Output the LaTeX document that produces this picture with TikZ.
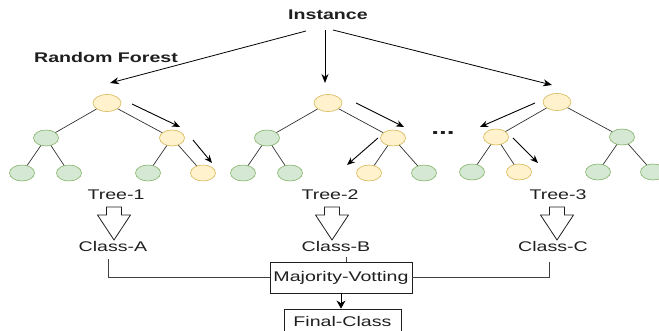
\documentclass[tikz,border=0pt]{standalone}
\usepackage{fontspec}
\setmainfont{Liberation Sans}
\usetikzlibrary{arrows.meta,shapes.geometric}
\definecolor{gfill}{HTML}{D5E8D4}
\definecolor{gline}{HTML}{82B366}
\definecolor{yfill}{HTML}{FFF2CC}
\definecolor{yline}{HTML}{D6B656}
\definecolor{ink}{HTML}{1F1F1F}
\newcommand\widetxt[1]{\scalebox{1.4}[1]{#1}}
\tikzset{
  nd/.style={ellipse, draw=#1line, fill=#1fill, line width=0.6pt,
    minimum width=25pt, minimum height=16pt, inner sep=0pt},
  rootnd/.style={nd=#1, minimum width=28pt, minimum height=17pt},
  branch/.style={draw=black!80, line width=0.7pt},
  walk/.style={-{Stealth[length=8pt,width=6.5pt]}, line width=0.9pt},
  feed/.style={-{Stealth[length=9pt,width=7pt]}, line width=0.8pt},
  txt/.style={text=ink, inner sep=1pt, font=\fontsize{14}{16}\selectfont},
  boldtxt/.style={txt, font=\fontsize{14}{16}\selectfont\bfseries},
  hollow/.style={draw=ink, line width=0.8pt, fill=white},
  link/.style={draw=black!75, line width=0.8pt},
  box/.style={txt, draw=ink, line width=0.8pt}
}
\begin{document}
\begin{tikzpicture}[x=1pt,y=1pt]
  \useasboundingbox (0,0) rectangle (659,331);

  \node[boldtxt] (inst) at (328,316) {\widetxt{Instance}};
  \node[boldtxt] (rf) at (106,273) {\widetxt{Random Forest}};

  % the three trees
  \foreach \t/\cx/\cy/\cr/\ca/\cb/\caa/\cab/\cba/\cbb in
    {1/107/228/y/g/y/g/g/g/y, 2/328/228/y/g/y/g/g/y/g, 3/557/229/y/y/g/g/y/g/g} {
    \begin{scope}[shift={(\cx,\cy)}]
      \node[rootnd=\cr] (r\t) at (0,0) {};
      \node[nd=\ca] (a\t) at (-61,-35) {};
      \node[nd=\cb] (b\t) at (65,-35) {};
      \node[nd=\caa] (aa\t) at (-85,-70) {};
      \node[nd=\cab] (ab\t) at (-38,-70) {};
      \node[nd=\cba] (ba\t) at (41,-70) {};
      \node[nd=\cbb] (bb\t) at (96,-70) {};
      \draw[branch] (r\t) -- (a\t);
      \draw[branch] (r\t) -- (b\t);
      \draw[branch] (a\t) -- (aa\t);
      \draw[branch] (a\t) -- (ab\t);
      \draw[branch] (b\t) -- (ba\t);
      \draw[branch] (b\t) -- (bb\t);
    \end{scope}
  }
  \node[boldtxt, font=\fontsize{20}{20}\selectfont\bfseries] (dots) at (443,198) {\widetxt{...}};

  % decision paths
  \draw[walk] ([shift={(25,-1)}]r1.center) -- ([shift={(8,11)}]b1.center);
  \draw[walk] ([shift={(21,-2)}]b1.center) -- ([shift={(9,10)}]bb1.center);
  \draw[walk] ([shift={(28,0)}]r2.center) -- ([shift={(11,11)}]b2.center);
  \draw[walk] ([shift={(-15,0)}]b2.center) -- ([shift={(-22,8)}]ba2.center);
  \draw[walk] ([shift={(-22,-1)}]r3.center) -- ([shift={(-16,10)}]a3.center);
  \draw[walk] ([shift={(17,-1)}]a3.center) -- ([shift={(19,9)}]ab3.center);

  % instance to trees
  \draw[feed] ([shift={(-22,-16)}]inst.center) -- ([shift={(3,20)}]r1.center);
  \draw[feed] ([shift={(-3,-15)}]inst.center) -- ([shift={(-3,20)}]r2.center);
  \draw[feed] ([shift={(5,-15)}]inst.center) -- ([shift={(-5,17)}]r3.center);

  \node[txt] (tl1) at (116,136) {\widetxt{Tree-1}};
  \node[txt] (tl2) at (330,136) {\widetxt{Tree-2}};
  \node[txt] (tl3) at (558,136) {\widetxt{Tree-3}};
  \foreach \x in {114,332,557} {
    \begin{scope}[shift={(\x,91)}]
      \draw[hollow] (-7.5,33) -- (7.5,33) -- (7.5,25) -- (16.5,25)
        -- (0,0) -- (-16.5,25) -- (-7.5,25) -- cycle;
    \end{scope}
  }
  \node[txt] (c1) at (113,84) {\widetxt{Class-A}};
  \node[txt] (c2) at (336,84) {\widetxt{Class-B}};
  \node[txt] (c3) at (553,84) {\widetxt{Class-C}};

  \node[box, minimum width=142pt, minimum height=31pt] (vote) at (341,53.5) {\widetxt{Majority-Votting}};
  \node[box, minimum width=117pt, minimum height=25pt] (final) at (342.5,9.5) {\widetxt{Final-Class}};

  \draw[link, shorten <=6pt] ([xshift=-5pt]c1.south) |- (vote.west);
  \draw[link, shorten <=9pt] ([xshift=-4pt]c3.south) |- (vote.east);
  \draw[link, shorten <=4pt] ([xshift=10pt]c2.south) -- ([xshift=5pt]vote.north);
  \draw[link, draw=black, -{Stealth[length=8pt,width=9pt]}] (vote.south) -- (vote.south |- final.north);
\end{tikzpicture}
\end{document}
